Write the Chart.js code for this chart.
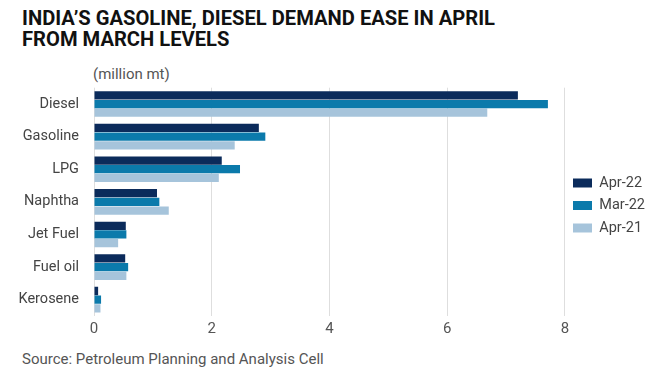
<!DOCTYPE html>
<html>
<head>
<meta charset="utf-8">
<script src="https://cdn.jsdelivr.net/npm/chart.js@4/dist/chart.umd.min.js"></script>
<style>
  body { margin: 0; background: #fff; width: 651px; height: 371px; overflow: hidden; position: relative; font-family: Roboto, "Noto Sans", sans-serif; }
  #title { position: absolute; left: 22px; top: 8px; font-family: Roboto, sans-serif; font-weight: bold; font-size: 21px; line-height: 21px; color: #111; transform-origin: 0 0; white-space: nowrap; }
  #title span { display: inline-block; }
  #unit { position: absolute; left: 93px; top: 65px; font-size: 15px; color: #555; }
  #source { position: absolute; left: 22px; top: 350px; font-size: 15px; color: #555; }
  #wrap { position: absolute; left: 0; top: 72px; width: 655px; height: 270px; }
</style>
</head>
<body>
<div id="title"><span id="linha1">INDIA’S GASOLINE, DIESEL DEMAND EASE IN APRIL</span><br><span>FROM MARCH LEVELS</span></div>
<div id="unit">(million mt)</div>
<div id="wrap"><canvas id="grafico"></canvas></div>
<div id="source">Source: Petroleum Planning and Analysis Cell</div>
<script>
// produtos e valores (million mt)
var produtos = ['Diesel', 'Gasoline', 'LPG', 'Naphtha', 'Jet Fuel', 'Fuel oil', 'Kerosene'];
var apr22 = [7.20, 2.80, 2.17, 1.07, 0.54, 0.53, 0.07];
var mar22 = [7.71, 2.91, 2.48, 1.11, 0.55, 0.58, 0.12];
var apr21 = [6.68, 2.39, 2.12, 1.27, 0.41, 0.55, 0.11];
var xTicks = [0, 2, 4, 6, 8];

// titulo condensado
var linha1 = document.getElementById('linha1');
var escala = 473 / linha1.getBoundingClientRect().width;
document.getElementById('title').style.transform = 'scaleX(' + escala + ')';

// sobe um pouco a legenda
var ajusteLegenda = {
    id: 'ajusteLegenda',
    afterLayout: function(chart) {
        chart.legend.top -= 5;
        chart.legend.bottom -= 5;
    }
};

let ctx = document.getElementById('grafico');
let chart = new Chart(ctx, {
    type: 'bar',
    data: {
        labels: produtos,
        datasets: [
            { label: 'Apr-22', data: apr22, backgroundColor: '#0b2b5b' },
            { label: 'Mar-22', data: mar22, backgroundColor: '#0b7aab' },
            { label: 'Apr-21', data: apr21, backgroundColor: '#a6c4db' }
        ]
    },
    plugins: [ajusteLegenda],
    options: {
        indexAxis: 'y',
        responsive: true,
        maintainAspectRatio: false,
        animation: false,
        datasets: { bar: { barPercentage: 0.95, categoryPercentage: 0.8 } },
        layout: { padding: { top: 7, right: 0, bottom: 0, left: 0 } },
        plugins: {
            legend: {
                position: 'right',
                labels: {
                    boxWidth: 19, boxHeight: 9, padding: 8,
                    color: '#444',
                    font: { family: 'Roboto', size: 14.5 }
                }
            },
            tooltip: { enabled: false }
        },
        scales: {
            x: {
                min: 0, max: 8,
                afterBuildTicks: function(scale) {
                    scale.ticks = xTicks.map(function(v) { return { value: v }; });
                },
                grid: { color: '#dedede', drawTicks: false },
                border: { display: false },
                ticks: { color: '#555', padding: 4, font: { family: 'Roboto', size: 15 } }
            },
            y: {
                grid: { display: false },
                border: { display: false },
                afterFit: function(scale) { scale.width = 94; },
                ticks: { color: '#444', padding: 7, font: { family: 'Roboto', size: 14.5 } }
            }
        }
    }
});
</script>
</body>
</html>
